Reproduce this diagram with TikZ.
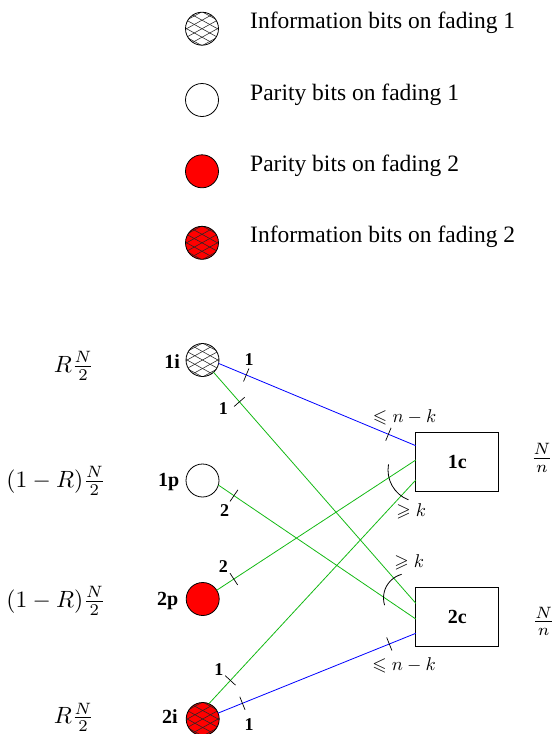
\documentclass[tikz,border=0pt]{standalone}
\usepackage{graphicx}
\usepackage{amssymb}
\usepackage{fontspec}
\setmainfont{Liberation Serif}
\usetikzlibrary{calc,decorations.markings}
\definecolor{lgreen}{RGB}{20,185,20}
\definecolor{lblue}{RGB}{0,0,255}
\newcommand{\mybigmath}[1]{\scalebox{2.35}{$#1$}}
\newcommand{\mysmallmath}[1]{\scalebox{1.85}{$#1$}}
\tikzset{
  bit/.style={circle, draw=black, fill=white, line width=0.8pt, minimum size=33pt, inner sep=0pt, outer sep=0pt},
  redbit/.style={bit, fill=red},
  hatched/.style={path picture={
     \coordinate (pc) at (path picture bounding box.center);
     \foreach \k in {-42.5,-34,...,42.5}{
       \draw[black!85, line width=0.55pt] ([shift={(-24,\k-13.2)}]pc) -- ([shift={(24,\k+13.2)}]pc);
       \draw[black!85, line width=0.55pt] ([shift={(-24,\k+13.2)}]pc) -- ([shift={(24,\k-13.2)}]pc);
     }}},
  legtxt/.style={anchor=base west, inner sep=0pt, font=\fontsize{23.5}{28}\selectfont},
  bitlbl/.style={anchor=base, inner sep=0pt, font=\fontsize{20}{24}\selectfont\bfseries},
  ticklbl/.style={anchor=base, inner sep=0pt, font=\fontsize{18}{22}\selectfont\bfseries},
  mathlbl/.style={inner sep=0pt},
  cbox/.style={draw=black, line width=1.1pt, minimum width=83pt, minimum height=59pt, inner sep=0pt, outer sep=0pt, font=\fontsize{20}{24}\selectfont\bfseries},
  bline/.style={draw=lblue, line width=0.8pt},
  gline/.style={draw=lgreen, line width=0.8pt},
  tickat/.style={postaction={decorate, decoration={markings, mark=at position #1 with {\draw[black, line width=0.7pt] (0,-7) -- (0,7);}}}},
  arcmark/.style={draw=black, line width=0.8pt}
}
\begin{document}
\begin{tikzpicture}[x=1pt,y=-1pt]
\useasboundingbox (0,0) rectangle (553,734);
% legend
\node[bit, hatched] (L1) at (202,28.7) {};
\node[legtxt] (T1) at (250,28.5) {Information bits on fading 1};
\node[bit] (L2) at (202,100) {};
\node[legtxt] (T2) at (250,100) {Parity bits on fading 1};
\node[redbit] (L3) at (202,171.3) {};
\node[legtxt] (T3) at (250,171.3) {Parity bits on fading 2};
\node[redbit, hatched] (L4) at (202,242.8) {};
\node[legtxt] (T4) at (250,242.8) {Information bits on fading 2};
% bit nodes
\node[bit, hatched] (n1i) at (202.5,360) {};
\node[bit] (n1p) at (202.5,480.5) {};
\node[redbit] (n2p) at (202.7,599) {};
\node[redbit, hatched] (n2i) at (202.7,719) {};
\node[bitlbl] (l1i) at (172.2,368) {1i};
\node[bitlbl] (l1p) at (168.7,486.7) {1p};
\node[bitlbl] (l2p) at (167.8,605) {2p};
\node[bitlbl] (l2i) at (169.8,723.3) {2i};
\node[mathlbl] (m1i) at (74,366) {\mybigmath{R\frac{N}{2}}};
\node[mathlbl] (m1p) at (56,481) {\mybigmath{(1-R)\frac{N}{2}}};
\node[mathlbl] (m2p) at (56,601) {\mybigmath{(1-R)\frac{N}{2}}};
\node[mathlbl] (m2i) at (74,717.5) {\mybigmath{R\frac{N}{2}}};
% check nodes
\node[cbox] (c1) at (457.3,462.2) {1c};
\node[cbox] (c2) at (457.3,617) {2c};
\node[mathlbl, anchor=base west] (r1) at (530.6,463.9) {\mybigmath{\frac{N}{n}}};
\node[mathlbl, anchor=base west] (r2) at (532.3,627.3) {\mybigmath{\frac{N}{n}}};
\coordinate (c1a) at ($(c1.west)+(0,-16.5)$);
\coordinate (c1b) at ($(c1.west)+(0,-2.2)$);
\coordinate (c1c) at ($(c1.west)+(0,17.8)$);
\coordinate (c2a) at ($(c2.west)+(0,-13.7)$);
\coordinate (c2b) at ($(c2.west)+(0,2)$);
\coordinate (c2c) at ($(c2.west)+(0,16.3)$);
% connectors
\draw[bline, tickat=0.14, tickat=0.861] (n1i.-12) -- (c1a);
\draw[gline, tickat=0.128] (n1i.-48) -- (c2a);
\draw[gline, tickat=0.079] (n1p.-16) -- (c2b);
\draw[gline, tickat=0.086] (n2p.32) -- (c1b);
\draw[gline, tickat=0.104] (n2i.68) -- (c1c);
\draw[bline, tickat=0.123, tickat=0.866] (n2i.21) -- (c2c);
% tick labels
\node[ticklbl] (t1) at (249.2,365) {1};
\node[ticklbl] (t2) at (223.3,414) {1};
\node[ticklbl] (t3) at (224.7,516.7) {2};
\node[ticklbl] (t4) at (223.3,572) {2};
\node[ticklbl] (t5) at (218.8,675) {1};
\node[ticklbl] (t6) at (249.2,730.8) {1};
% degree labels
\node[mathlbl] (d1) at (404.7,417.5) {\mysmallmath{\leqslant n-k}};
\node[mathlbl] (d2) at (404,665) {\mysmallmath{\leqslant n-k}};
\node[mathlbl] (d3) at (411.3,511.7) {\mysmallmath{\geqslant k}};
\node[mathlbl] (d4) at (409.2,562.5) {\mysmallmath{\geqslant k}};
% arcs
\coordinate (a1) at ($(c1.west)+(4.2,7.8)$);
\coordinate (a2) at ($(c2.west)+(-7.8,-19)$);
\draw[arcmark] ([shift={(190:32)}]a1) arc[start angle=190, end angle=111, radius=32];
\draw[arcmark] ([shift={(255:24.5)}]a2) arc[start angle=255, end angle=163, radius=24.5];
\end{tikzpicture}
\end{document}
